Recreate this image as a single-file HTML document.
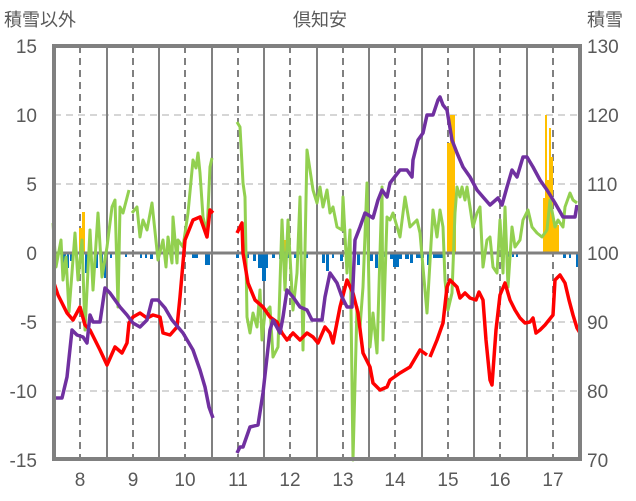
<!DOCTYPE html>
<html><head><meta charset="utf-8"><style>
body{margin:0;background:#fff;}
svg{display:block;font-family:"Liberation Sans","Noto Sans CJK JP",sans-serif;}
</style></head><body>
<svg width="636" height="501" viewBox="0 0 636 501">
<rect width="636" height="501" fill="#fff"/>
<g fill="#595959" font-size="19">
<text x="4" y="26" font-size="18">積雪以外</text>
<text x="320" y="26" text-anchor="middle" font-size="18">倶知安</text>
<text x="587" y="26" font-size="18">積雪</text>
<g text-anchor="end">
<text x="37" y="53">15</text><text x="37" y="122">10</text><text x="37" y="191">5</text>
<text x="37" y="260">0</text><text x="37" y="329">-5</text><text x="37" y="398">-10</text><text x="37" y="467">-15</text>
</g>
<text x="587" y="53">130</text><text x="587" y="122">120</text><text x="587" y="191">110</text>
<text x="587" y="260">100</text><text x="587" y="329">90</text><text x="587" y="398">80</text><text x="587" y="467">70</text>
<g text-anchor="middle">
<text x="80" y="486">8</text><text x="133" y="486">9</text><text x="185" y="486">10</text><text x="238" y="486">11</text>
<text x="290" y="486">12</text><text x="343" y="486">13</text><text x="395" y="486">14</text><text x="448" y="486">15</text>
<text x="500" y="486">16</text><text x="553" y="486">17</text>
</g></g>
<g stroke="#c8c8c8" stroke-width="1.5" stroke-dasharray="7,5">
<line x1="54" y1="115" x2="580" y2="115"/><line x1="54" y1="184" x2="580" y2="184"/>
<line x1="54" y1="322" x2="580" y2="322"/><line x1="54" y1="391" x2="580" y2="391"/>
</g>
<g stroke="#808080" stroke-width="2" stroke-dasharray="7,5">
<line x1="80" y1="46" x2="80" y2="459"/><line x1="133" y1="46" x2="133" y2="459"/><line x1="185" y1="46" x2="185" y2="459"/>
<line x1="238" y1="46" x2="238" y2="459"/><line x1="290" y1="46" x2="290" y2="459"/><line x1="343" y1="46" x2="343" y2="459"/>
<line x1="395" y1="46" x2="395" y2="459"/><line x1="448" y1="46" x2="448" y2="459"/><line x1="500" y1="46" x2="500" y2="459"/>
<line x1="553" y1="46" x2="553" y2="459"/>
</g>
<g stroke="#808080" stroke-width="2">
<line x1="107" y1="46" x2="107" y2="459"/><line x1="159" y1="46" x2="159" y2="459"/><line x1="212" y1="46" x2="212" y2="459"/>
<line x1="264" y1="46" x2="264" y2="459"/><line x1="317" y1="46" x2="317" y2="459"/><line x1="369" y1="46" x2="369" y2="459"/>
<line x1="422" y1="46" x2="422" y2="459"/><line x1="474" y1="46" x2="474" y2="459"/><line x1="527" y1="46" x2="527" y2="459"/>
</g>
<g fill="#ffc000">
<rect x="79" y="228" width="3" height="25"/><rect x="82" y="212" width="3" height="41"/>
<rect x="284" y="240" width="2" height="13"/>
<rect x="447" y="143" width="3" height="110"/><rect x="450" y="115" width="5" height="138"/><rect x="453" y="225" width="3" height="28"/>
<rect x="543" y="198" width="3" height="55"/><rect x="545" y="115" width="2" height="138"/><rect x="547" y="180" width="2" height="73"/>
<rect x="549" y="128" width="2" height="125"/><rect x="551" y="157" width="2" height="96"/><rect x="553" y="225" width="6" height="28"/>
</g>
<g fill="#0070c0">
<rect x="63" y="253" width="3" height="10"/><rect x="67" y="253" width="2" height="15"/><rect x="70" y="253" width="3" height="8"/>
<rect x="76" y="253" width="2" height="5"/><rect x="85" y="253" width="3" height="20"/><rect x="90" y="253" width="2" height="6"/>
<rect x="95" y="253" width="3" height="15"/><rect x="100" y="253" width="3" height="12"/><rect x="104" y="253" width="2" height="25"/>
<rect x="110" y="253" width="2" height="5"/><rect x="125" y="253" width="2" height="4"/><rect x="140" y="253" width="2" height="5"/>
<rect x="145" y="253" width="2" height="5"/><rect x="150" y="253" width="3" height="6"/><rect x="192" y="253" width="6" height="5"/>
<rect x="205" y="253" width="5" height="12"/><rect x="236" y="253" width="3" height="5"/><rect x="246" y="253" width="3" height="5"/>
<rect x="253" y="253" width="3" height="8"/><rect x="258" y="253" width="10" height="15"/><rect x="262" y="253" width="4" height="28"/>
<rect x="272" y="253" width="3" height="5"/><rect x="279" y="253" width="3" height="6"/><rect x="286" y="253" width="4" height="5"/>
<rect x="294" y="253" width="3" height="5"/><rect x="305" y="253" width="3" height="5"/><rect x="322" y="253" width="3" height="10"/>
<rect x="326" y="253" width="3" height="18"/><rect x="332" y="253" width="2" height="5"/><rect x="340" y="253" width="3" height="8"/>
<rect x="346" y="253" width="4" height="5"/><rect x="357" y="253" width="3" height="12"/><rect x="370" y="253" width="3" height="8"/>
<rect x="375" y="253" width="3" height="15"/><rect x="384" y="253" width="2" height="4"/><rect x="390" y="253" width="12" height="6"/>
<rect x="393" y="253" width="6" height="14"/><rect x="405" y="253" width="4" height="6"/><rect x="410" y="253" width="3" height="10"/>
<rect x="416" y="253" width="8" height="5"/><rect x="427" y="253" width="3" height="12"/><rect x="433" y="253" width="10" height="5"/>
<rect x="508" y="253" width="2" height="4"/><rect x="512" y="253" width="2" height="4"/><rect x="516" y="253" width="2" height="4"/>
<rect x="563" y="253" width="3" height="5"/><rect x="569" y="253" width="2" height="5"/><rect x="576" y="253" width="3" height="14"/>
</g>
<line x1="54" y1="253" x2="580" y2="253" stroke="#808080" stroke-width="3"/>
<g fill="none" stroke="#92d050" stroke-width="3" stroke-linejoin="round">
<polyline points="53,223 56,267 61,240 63,280 66,257 69,312 75,233 78,280 82,240 85,330 90,230 93,290 98,213 102,277 107,247 112,207 115,200 118,307 120,207 123,213 129,190"/>
<polyline points="132,213 137,207 140,237 143,220 147,230 152,203 158,260 163,240 166,267 168,237 172,263 173,217 177,263 178,240 183,247 188,213 193,160 196,168 198,153 200,173 203,217 207,233 210,167 212,158"/>
<polyline points="237,122 240,127 243,183 245,197 247,317 250,333 253,313 257,327 260,290 262,340 265,313 270,307 273,357 278,347 282,220 285,290 288,220 293,310 297,273 300,197 303,350 307,150 313,190 317,203 320,187 323,207 327,190 330,213 333,207 337,227 342,230 343,197 347,273 350,230 353,460 357,307 360,327 363,287 367,183 370,347 373,313 377,353 382,187 383,340 387,217 390,220 393,213 400,237 405,197 410,227 417,220 420,233 427,313 433,210 437,237 440,210 443,227 445,280 448,310 452,293 455,213 457,187 460,197 462,187 465,200 467,187 470,207 473,227 477,213 480,207 483,267 487,240 490,237 493,267 497,273 500,220 503,273 505,207 508,287 512,227 515,247 520,240 523,220 528,210 532,227 537,233 542,237 547,230 550,200 555,227 558,220 563,227 565,207 570,193 573,200 577,203"/>
</g>
<g fill="none" stroke="#ff0000" stroke-width="3.5" stroke-linejoin="round">
<polyline points="54,283 58,295 63,305 67,313 73,320 80,307 85,325 90,330 100,350 107,365 115,347 122,353 127,343 129,323 133,317 140,313 147,318 153,315 160,317 163,333 170,335 177,327 180,297 185,240 193,220 200,217 207,237 210,210 213,213"/>
<polyline points="237,233 242,223 243,253 248,283 255,300 263,307 270,317 277,322 282,333 287,340 293,333 300,340 307,333 313,337 318,343 325,327 330,333 333,343 340,307 347,280 353,293 358,313 363,353 370,367 373,383 380,390 387,387 390,380 400,373 410,367 420,350 427,355"/>
<polyline points="430,357 437,340 443,323 447,287 450,280 457,287 460,298 465,293 470,298 476,300 479,292 483,300 486,340 490,380 492,385 496,330 500,295 505,283 510,300 515,310 520,318 525,323 530,322 533,318 536,333 540,330 545,325 549,320 553,315 555,280 560,275 565,283 569,300 573,315 577,328 580,333"/>
</g>
<g fill="none" stroke="#7030a0" stroke-width="3.5" stroke-linejoin="round">
<polyline points="53,398 62,398 67,377 72,330 77,335 83,337 87,343 90,315 93,322 100,322 105,288 110,293 120,307 127,315 133,323 140,327 147,320 152,300 158,300 165,308 172,320 183,333 193,350 200,370 205,387 209,407 213,418"/>
<polyline points="237,453 240,447 243,447 250,427 258,425 263,393 270,330 273,320 280,333 283,317 287,290 293,297 300,307 307,310 312,320 322,320 325,297 330,273 337,283 342,297 347,307 352,307 355,240 360,227 365,213 373,218 378,200 382,190 387,197 390,183 400,170 407,170 412,177 413,160 418,140 423,133 427,115 433,115 438,100 440,97 443,105 447,110 452,140 457,153 463,167 470,177 477,190 483,197 490,205 498,198 502,205 507,187 512,170 517,177 523,157 527,157 533,167 540,180 547,190 555,203 563,217 575,217 577,205"/>
</g>
<rect x="54" y="46" width="526" height="413" fill="none" stroke="#808080" stroke-width="4"/>
</svg>
</body></html>
